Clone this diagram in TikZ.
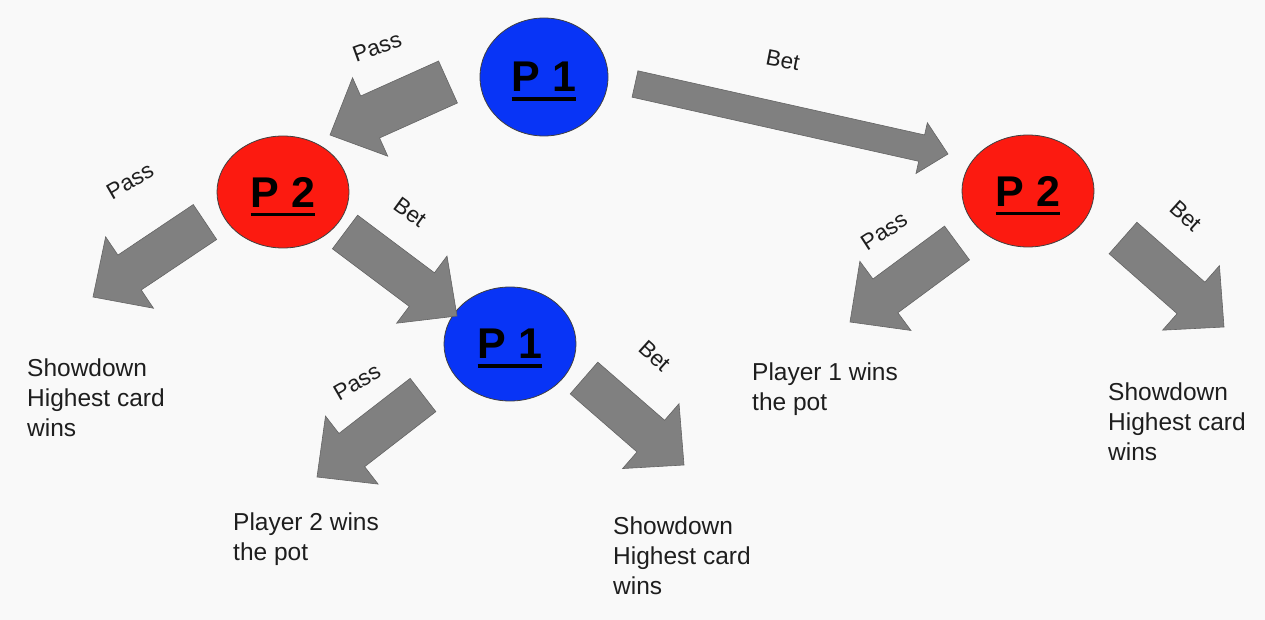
\documentclass[tikz,border=0pt]{standalone}
\usepackage{fontspec}
\setmainfont{Liberation Sans}
\usetikzlibrary{calc,shapes.geometric}
\definecolor{bgc}{RGB}{249,249,249}
\definecolor{pblue}{RGB}{8,52,246}
\definecolor{pred}{RGB}{252,26,16}
\definecolor{agray}{RGB}{128,128,128}
\definecolor{aedge}{RGB}{100,100,100}
\definecolor{txt}{RGB}{30,30,30}
\newcommand\pul[1]{\setbox0\hbox{#1}\rlap{\smash{\rule[-9pt]{\wd0}{3.5pt}}}\box0}
\newcommand\barrow[5]{%
  \path ($(#2)!#5!(#1)$) coordinate (H);
  \draw[blockarrow] ($(#1)!#3!90:(#2)$) -- ($(H)!#3!90:(#2)$) -- ($(H)!#4!90:(#2)$) -- (#2)
    -- ($(H)!#4!-90:(#2)$) -- ($(H)!#3!-90:(#2)$) -- ($(#1)!#3!-90:(#2)$) -- cycle;}
\tikzset{
  blockarrow/.style={fill=agray, draw=aedge, line width=0.6pt, line join=miter},
  player/.style={ellipse, draw=black!75, line width=0.8pt, inner sep=0pt,
     minimum width=132pt, minimum height=114pt,
     font=\fontsize{43}{43}\selectfont\bfseries, text=black},
  outcome/.style={anchor=north west, inner sep=0pt, align=left, text=txt,
     font=\fontsize{24.5}{30}\selectfont},
  move/.style={inner sep=0pt, text=txt, font=\fontsize{22.5}{22.5}\selectfont},
}
\begin{document}
\begin{tikzpicture}[x=1pt,y=-1pt]
\fill[bgc] (0,0) rectangle (1265,620);
\useasboundingbox (0,0) rectangle (1265,620);

% players
\node[player, fill=pblue, minimum width=128pt, minimum height=118pt] (p1a) at (544,77) {\pul{P 1}};
\node[player, fill=pred, minimum height=112pt] (p2l) at (283,192) {\pul{P 2}};
\node[player, fill=pred, minimum height=112pt] (p2r) at (1028,191) {\pul{P 2}};
\node[player, fill=pblue] (p1b) at (510,344) {\pul{P 1}};

% arrow end points
\coordinate (a1t) at (448,82);   \coordinate (a1h) at (330,135);
\coordinate (a2t) at (635,84);   \coordinate (a2h) at (948,154);
\coordinate (a3t) at (205,222);  \coordinate (a3h) at (93,297);
\coordinate (a4t) at (345,232);  \coordinate (a4h) at (457,316);
\coordinate (a5t) at (423,395);  \coordinate (a5h) at (317,477);
\coordinate (a6t) at (584,378);  \coordinate (a6h) at (684,465);
\coordinate (a7t) at (957,243);  \coordinate (a7h) at (850,322);
\coordinate (a8t) at (1123,238); \coordinate (a8h) at (1224,327);

\barrow{a1t}{a1h}{23pt}{43pt}{44pt}
\barrow{a2t}{a2h}{13.5pt}{26pt}{27pt}
\barrow{a3t}{a3h}{21pt}{43pt}{44pt}
\barrow{a4t}{a4h}{21pt}{42pt}{44pt}
\barrow{a5t}{a5h}{21pt}{43pt}{44pt}
\barrow{a6t}{a6h}{21pt}{43pt}{44pt}
\barrow{a7t}{a7h}{21pt}{43pt}{44pt}
\barrow{a8t}{a8h}{21pt}{43pt}{44pt}

% move labels
\node[move, rotate=20]  (m1) at (377,47)  {Pass};
\node[move, rotate=-11] (m2) at (783,60)  {Bet};
\node[move, rotate=30]  (m3) at (130,181) {Pass};
\node[move, rotate=-36] (m4) at (410,212) {Bet};
\node[move, rotate=30]  (m5) at (357,382) {Pass};
\node[move, rotate=-42] (m6) at (655,356) {Bet};
\node[move, rotate=33]  (m7) at (884,231) {Pass};
\node[move, rotate=-42] (m8) at (1186,216) {Bet};

% outcomes
\node[outcome] (o1) at (27,359)  {Showdown\\Highest card\\wins};
\node[outcome] (o2) at (233,513) {Player 2 wins\\the pot};
\node[outcome] (o3) at (613,517) {Showdown\\Highest card\\wins};
\node[outcome] (o4) at (752,363) {Player 1 wins\\the pot};
\node[outcome] (o5) at (1108,383) {Showdown\\Highest card\\wins};
\end{tikzpicture}
\end{document}
